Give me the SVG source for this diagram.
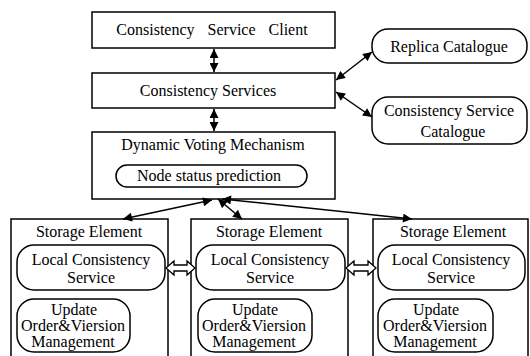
<svg xmlns="http://www.w3.org/2000/svg" width="530" height="356" viewBox="0 0 530 356">
  <defs>
    <marker id="ah" viewBox="0 0 10 10" refX="10" refY="5" markerWidth="10" markerHeight="9" markerUnits="userSpaceOnUse" orient="auto-start-reverse">
      <path d="M0,0 L10,5 L0,10 z" fill="#000"/>
    </marker>
  </defs>
  <style>
    .box{fill:#fff;stroke:#000;stroke-width:1.5}
    .ln{stroke:#000;stroke-width:1.5;fill:none}
    .hol{fill:#fff;stroke:#000;stroke-width:1.3;stroke-linejoin:miter}
  </style>
  <rect width="530" height="356" fill="#fff"/>

  <g font-family="Liberation Serif, Times New Roman, serif" font-size="16" fill="#000" text-anchor="middle">
  <g id="client">
    <rect class="box" x="92" y="12" width="243" height="36"/>
    <text x="212" y="35" word-spacing="9">Consistency Service Client</text>
  </g>
  <g id="services">
    <rect class="box" x="92" y="73" width="243" height="35"/>
    <text x="208" y="96">Consistency Services</text>
  </g>
  <g id="voting">
    <rect class="box" x="92" y="132" width="243" height="67"/>
    <text x="213" y="150">Dynamic Voting Mechanism</text>
    <rect class="box" x="116" y="165" width="191" height="22" rx="11"/>
    <text x="209" y="181">Node status prediction</text>
  </g>
  <g id="replica-catalogue">
    <rect class="box" x="372" y="29" width="155" height="34" rx="16"/>
    <text x="449" y="52">Replica Catalogue</text>
  </g>
  <g id="service-catalogue">
    <rect class="box" x="372" y="97" width="155" height="47" rx="16"/>
    <text x="449" y="116">Consistency Service</text>
    <text x="453" y="137">Catalogue</text>
  </g>

  <g id="storage-1">
    <rect class="box" x="11" y="219" width="157" height="145"/>
    <text x="89" y="237">Storage Element</text>
    <rect class="box" x="17" y="245" width="148" height="45" rx="17"/>
    <text x="91" y="265">Local Consistency</text>
    <text x="91" y="283">Service</text>
    <rect class="box" x="17" y="299" width="113" height="53" rx="17"/>
    <text x="74" y="315">Update</text>
    <text x="73" y="331">Order&amp;Viersion</text>
    <text x="73" y="347">Management</text>
  </g>
  <g id="storage-2">
    <rect class="box" x="191" y="219" width="157" height="145"/>
    <text x="269" y="237">Storage Element</text>
    <rect class="box" x="196" y="245" width="149" height="45" rx="17"/>
    <text x="270" y="265">Local Consistency</text>
    <text x="270" y="283">Service</text>
    <rect class="box" x="198" y="299" width="114" height="53" rx="17"/>
    <text x="255" y="315">Update</text>
    <text x="254" y="331">Order&amp;Viersion</text>
    <text x="254" y="347">Management</text>
  </g>
  <g id="storage-3">
    <rect class="box" x="373" y="219" width="155" height="145"/>
    <text x="453" y="237">Storage Element</text>
    <rect class="box" x="378" y="245" width="147" height="45" rx="17"/>
    <text x="451" y="265">Local Consistency</text>
    <text x="451" y="283">Service</text>
    <rect class="box" x="378" y="299" width="115" height="53" rx="17"/>
    <text x="436" y="315">Update</text>
    <text x="435" y="331">Order&amp;Viersion</text>
    <text x="435" y="347">Management</text>
  </g>
  </g>

  <g id="connectors">
    <line class="ln" x1="214" y1="49" x2="214" y2="72" marker-start="url(#ah)" marker-end="url(#ah)"/>
    <line class="ln" x1="214" y1="109" x2="214" y2="131" marker-start="url(#ah)" marker-end="url(#ah)"/>
    <line class="ln" x1="336" y1="80" x2="372" y2="52" marker-start="url(#ah)" marker-end="url(#ah)"/>
    <line class="ln" x1="336" y1="92" x2="372" y2="117" marker-start="url(#ah)" marker-end="url(#ah)"/>
    <line class="ln" x1="212" y1="200" x2="123" y2="219" marker-start="url(#ah)" marker-end="url(#ah)"/>
    <line class="ln" x1="218" y1="199" x2="242" y2="219" marker-start="url(#ah)" marker-end="url(#ah)"/>
    <line class="ln" x1="222" y1="199" x2="412" y2="219" marker-start="url(#ah)" marker-end="url(#ah)"/>
    <polygon class="hol" points="166,268 174,261 174,265 187,265 187,261 195,268 187,275 187,271 174,271 174,275"/>
    <polygon class="hol" points="346,268 354,261 354,265 368,265 368,261 376,268 368,275 368,271 354,271 354,275"/>
  </g>
</svg>
